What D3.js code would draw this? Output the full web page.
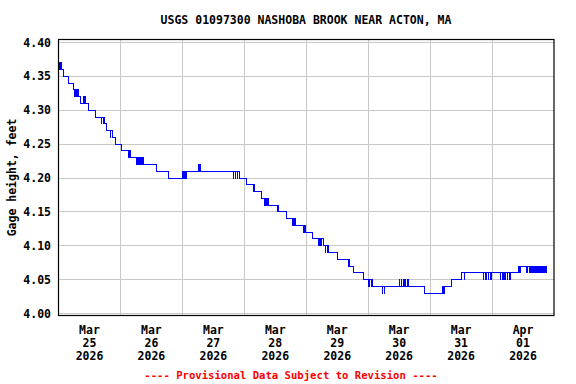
<!DOCTYPE html>
<html>
<head>
<meta charset="utf-8">
<script src="https://cdn.jsdelivr.net/npm/d3@7"></script>
<style>
  body { margin: 0; background: #fff; }
  text { font-family: "DejaVu Sans Mono", monospace; font-weight: bold; font-size: 11.5px; }
</style>
</head>
<body>
<svg width="576" height="384"></svg>
<script>
// gage height readings: hours after Mar 25 00:00 and value (feet), step data
const hours = [
  0, 0.25, 0.75, 1.0, 2.0, 4.0, 6.0, 6.25, 6.5, 7.0, 7.5, 7.75, 8.7,
  9.5, 9.75, 10.25, 10.5, 11.6, 14.4, 16.5, 16.75, 17.25, 17.5, 17.75, 18.7,
  20.0, 20.25, 20.75, 22.2, 24.6, 27.2, 27.5, 27.75,
  30.3, 30.55, 31.0, 31.25, 31.75, 32.0, 32.5, 32.75, 33.0, 38.0, 42.6,
  48.1, 48.35, 48.85, 49.1, 49.7, 54.2, 54.45, 54.7, 54.95,
  67.7, 67.95, 68.5, 68.75, 69.3, 69.55, 70.0, 72.9, 75.5, 75.75, 76.0,
  78.7, 80.0, 80.25, 80.75, 81.0, 81.25, 84.8, 85.0, 85.25, 88.2,
  90.5, 90.75, 91.25, 91.5, 91.75, 95.1, 95.35, 95.6, 98.4,
  100.7, 100.95, 101.5, 101.75, 102.6, 103.4, 103.65, 104.2, 104.45, 104.7,
  108.3, 112.4, 112.65, 112.9, 114.5, 118.1,
  120.3, 120.55, 121.1, 121.35, 121.6, 125.4, 125.65, 126.2, 126.45,
  132.0, 132.25, 132.75, 133.0, 133.5, 133.75, 134.25, 134.5, 135.25, 135.5,
  141.8, 148.9, 149.15, 149.4, 152.4, 156.2, 157.2, 157.45,
  164.6, 164.85, 165.5, 165.75, 166.5, 166.75, 167.5, 167.85,
  171.1, 171.4, 172.0, 172.3, 172.9, 173.2, 173.8, 174.1, 174.7, 175.0,
  178.2, 178.8, 179.05, 181.4, 181.75,
  182.7, 182.95, 183.3, 183.55, 183.9, 184.15, 184.5, 184.75, 185.1, 185.35,
  185.7, 185.95, 186.3, 186.55, 186.9, 187.15, 187.5, 187.75, 188.1, 188.35,
  188.7, 188.95, 189.2
];
const stage = [
  4.37, 4.36, 4.37, 4.36, 4.35, 4.34, 4.33, 4.32, 4.33, 4.32, 4.33, 4.32, 4.31,
  4.32, 4.31, 4.32, 4.31, 4.30, 4.29, 4.28, 4.29, 4.28, 4.29, 4.28, 4.27,
  4.26, 4.27, 4.26, 4.25, 4.24, 4.23, 4.24, 4.23,
  4.22, 4.23, 4.22, 4.23, 4.22, 4.23, 4.22, 4.23, 4.22, 4.21, 4.20,
  4.21, 4.20, 4.21, 4.20, 4.21, 4.22, 4.21, 4.22, 4.21,
  4.20, 4.21, 4.20, 4.21, 4.20, 4.21, 4.20, 4.19, 4.18, 4.19, 4.18,
  4.17, 4.16, 4.17, 4.16, 4.17, 4.16, 4.15, 4.16, 4.15, 4.14,
  4.13, 4.14, 4.13, 4.14, 4.13, 4.12, 4.13, 4.12, 4.11,
  4.10, 4.11, 4.10, 4.11, 4.10, 4.09, 4.10, 4.09, 4.10, 4.09,
  4.08, 4.07, 4.08, 4.07, 4.06, 4.05,
  4.04, 4.05, 4.04, 4.05, 4.04, 4.03, 4.04, 4.03, 4.04,
  4.05, 4.04, 4.05, 4.04, 4.05, 4.04, 4.05, 4.04, 4.05, 4.04,
  4.03, 4.04, 4.03, 4.04, 4.05, 4.06, 4.05, 4.06,
  4.05, 4.06, 4.05, 4.06, 4.05, 4.06, 4.05, 4.06,
  4.05, 4.06, 4.05, 4.06, 4.05, 4.06, 4.05, 4.06, 4.05, 4.06,
  4.07, 4.06, 4.07, 4.06, 4.07,
  4.06, 4.07, 4.06, 4.07, 4.06, 4.07, 4.06, 4.07, 4.06, 4.07,
  4.06, 4.07, 4.06, 4.07, 4.06, 4.07, 4.06, 4.07, 4.06, 4.07,
  4.06, 4.07, 4.07
];
const yTicks = [4.00, 4.05, 4.10, 4.15, 4.20, 4.25, 4.30, 4.35, 4.40];
const dayLabels = [["Mar", "25", "2026"], ["Mar", "26", "2026"], ["Mar", "27", "2026"],
  ["Mar", "28", "2026"], ["Mar", "29", "2026"], ["Mar", "30", "2026"],
  ["Mar", "31", "2026"], ["Apr", "01", "2026"]];

const start = new Date(2026, 2, 25);
const end = new Date(2026, 3, 2);
const hr = h => new Date(start.getTime() + h * 3600e3);

var svg = d3.select("svg");
var x = d3.scaleTime().domain([start, end]).range([58.5, 554]);
var y = d3.scaleLinear().domain([4.0, 4.4]).range([313.5, 42.5]);
const px = v => Math.round(v - 0.5) + 0.5;

// grid
svg.append("g").selectAll("line").data(yTicks).enter().append("line")
  .attr("x1", 58.5).attr("x2", 554)
  .attr("y1", d => px(y(d))).attr("y2", d => px(y(d)))
  .attr("stroke", "#c8c8c8").attr("stroke-width", 1);

var days = d3.timeDay.range(d3.timeDay.offset(start, 1), end);
svg.append("g").selectAll("line").data(days).enter().append("line")
  .attr("x1", d => px(x(d))).attr("x2", d => px(x(d)))
  .attr("y1", 39.5).attr("y2", 315.5)
  .attr("stroke", "#c8c8c8").attr("stroke-width", 1);

// data line
var line = d3.line()
  .x((d, i) => x(hr(hours[i])))
  .y(d => y(d))
  .curve(d3.curveStepAfter);
svg.append("path").datum(stage)
  .attr("d", line)
  .attr("fill", "none").attr("stroke", "#0000ff").attr("stroke-width", 1)
  .attr("shape-rendering", "crispEdges");

// frame
svg.append("rect").attr("x", 58.5).attr("y", 39.5).attr("width", 495.5).attr("height", 276)
  .attr("fill", "none").attr("stroke", "#000").attr("stroke-width", 1.2);

// y labels
svg.append("g").selectAll("text").data(yTicks).enter().append("text")
  .attr("x", 51).attr("y", d => y(d)).attr("dy", "0.35em")
  .attr("text-anchor", "end")
  .text(d => d3.format(".2f")(d));

// x labels at noon
var xl = svg.append("g").selectAll("text").data(dayLabels).enter().append("text")
  .attr("text-anchor", "middle")
  .attr("transform", (d, i) => "translate(" + x(d3.timeHour.offset(start, i * 24 + 12)) + ",334)");
xl.selectAll("tspan").data(d => d).enter().append("tspan")
  .attr("x", 0).attr("y", (d, j) => j * 13)
  .text(d => d);

svg.append("text")
  .attr("transform", "translate(16," + ((39.5 + 315.5) / 2) + ") rotate(-90)")
  .attr("text-anchor", "middle")
  .text("Gage height, feet");

svg.append("text").attr("x", 306).attr("y", 24).attr("text-anchor", "middle")
  .text("USGS 01097300 NASHOBA BROOK NEAR ACTON, MA");

svg.append("text").attr("x", 291).attr("y", 379).attr("text-anchor", "middle")
  .attr("fill", "#ff0000").style("font-size", "10.6px")
  .text("---- Provisional Data Subject to Revision ----");
</script>
</body>
</html>
